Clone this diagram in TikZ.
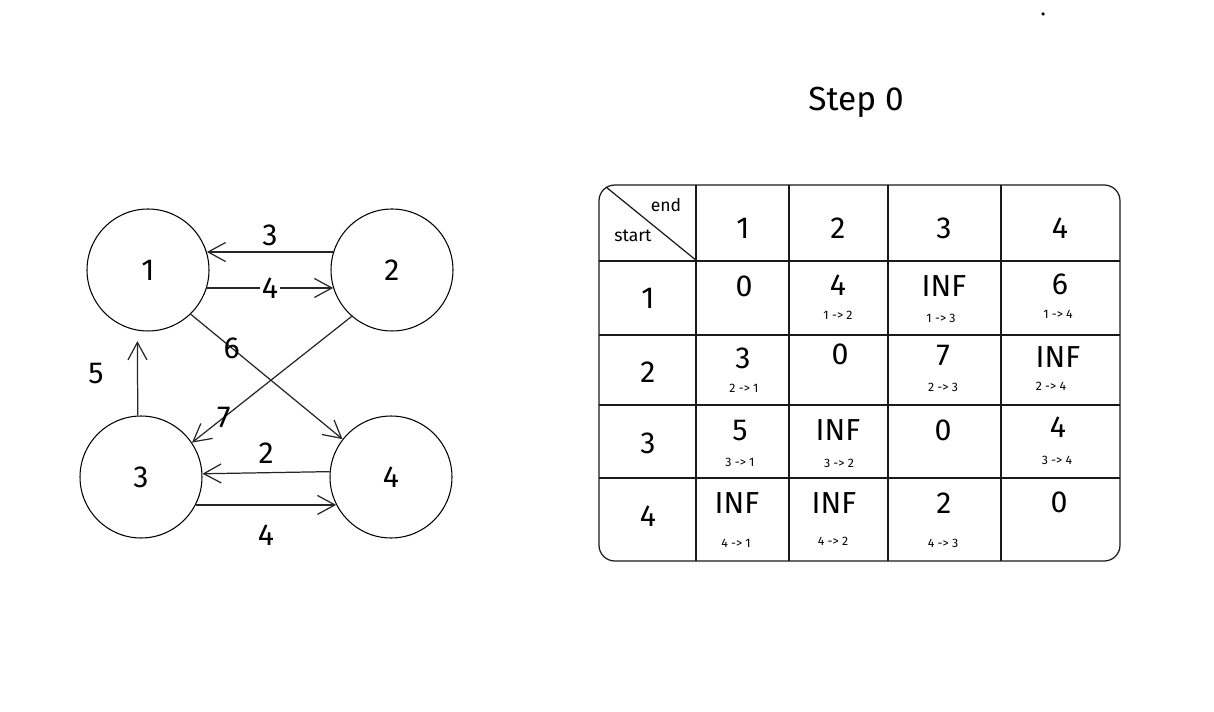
\documentclass[tikz,border=0pt]{standalone}
\usepackage{fontspec}
\setmainfont{Fira Sans}
\usetikzlibrary{arrows.meta}

\begin{document}
\begin{tikzpicture}[
    x=0.02cm, y=-0.02cm,
    vertex/.style={draw, circle, minimum size=2.44cm, line width=0.6pt, font=\LARGE},
    edge/.style={draw=black!85, line width=0.7pt, -{Straight Barb[length=3.5mm, width=3.8mm]}},
    weight/.style={font=\LARGE, inner sep=1pt},
    grid/.style={line width=0.7pt, draw=black!90},
    head/.style={font=\LARGE},
    val/.style={font=\LARGE},
    via/.style={font=\scriptsize}
]
\useasboundingbox (0,0) rectangle (1214,712);

\node[vertex] (n1) at (148,270) {1};
\node[vertex] (n2) at (392,270) {2};
\node[vertex] (n3) at (141,477) {3};
\node[vertex] (n4) at (391,477) {4};

\draw[edge] (n2.163) -- node[weight, above=2pt] (w21) {3} (n1.17);
\draw[edge] (n1.-17) -- node[weight, fill=white] (w12) {4} (n2.197);
\draw[edge] (n1.-46) -- node[weight, pos=0.27] (w14) {6} (n4.142);
\draw[edge] (n2.229) -- node[weight, pos=0.8] (w23) {7} (n3.34);
\draw[edge, shorten >=6pt] (n3.93) -- node[weight, left=18pt] (w31) {5} (n1.260);
\draw[edge] (n4.175) -- node[weight, above=4pt] (w43) {2} (n3.3);
\draw[edge] (n3.-27) -- node[weight, below=10pt] (w34) {4} (n4.-153);

\node[font=\fontsize{19}{22}\selectfont] (title) at (856,102) {Step 0};
\fill (1043,14) circle (1pt);

% distance table
\draw[grid, rounded corners=9pt] (599,185) rectangle (1120,561);
\foreach \xx in {696,789,888,1001}
    \draw[grid] (\xx,185) -- (\xx,561);
\foreach \yy in {261,335,405,478}
    \draw[grid] (599,\yy) -- (1120,\yy);
\draw[grid] (606,187) -- (697,261);
\node[font=\normalsize] (endlbl) at (666,205) {end};
\node[font=\normalsize] (startlbl) at (633,236) {start};

\foreach \c/\xx in {1/743,2/838,3/944,4/1060}
    \node[head] (h\c) at (\xx,228) {\c};
\foreach \r/\yy in {1/298,2/372,3/443,4/516}
    \node[head] (r\r) at (648,\yy) {\r};

\foreach \nm/\xx/\yy/\txt in {
    d11/744/286/0, d12/838/285/4, d13/944/286/INF, d14/1060/284/6,
    d21/743/358/3, d22/840/354/0, d23/943/355/7, d24/1058/357/INF,
    d31/740/431/5, d32/838/430/INF, d33/943/430/0, d34/1058/427/4,
    d41/737/503/INF, d42/834/503/INF, d43/944/503/2, d44/1059/502/0}
    \node[val] (\nm) at (\xx,\yy) {\txt};

\foreach \nm/\xx/\yy/\txt in {
    p12/838/315/1 -> 2, p13/941/318/1 -> 3, p14/1058/314/1 -> 4,
    p21/744/388/2 -> 1, p23/943/387/2 -> 3, p24/1051/386/2 -> 4,
    p31/740/462/3 -> 1, p32/839/463/3 -> 2, p34/1057/460/3 -> 4,
    p41/736/543/4 -> 1, p42/833/541/4 -> 2, p43/943/543/4 -> 3}
    \node[via] (\nm) at (\xx,\yy) {\txt};
\end{tikzpicture}
\end{document}
